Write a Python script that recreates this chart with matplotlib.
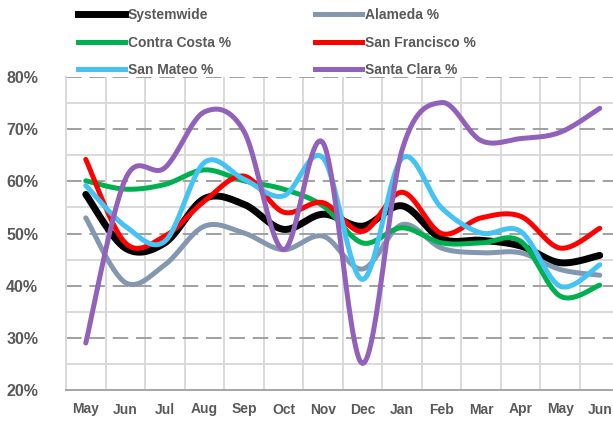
import numpy as np
import matplotlib

matplotlib.use("Agg")
import matplotlib.pyplot as plt
from matplotlib.lines import Line2D

plt.rcParams["font.family"] = ["Liberation Sans", "DejaVu Sans"]

months = ["May", "Jun", "Jul", "Aug", "Sep", "Oct", "Nov", "Dec",
          "Jan", "Feb", "Mar", "Apr", "May", "Jun"]

systemwide = [57.5, 47.2, 48.2, 56.7, 55.6, 50.8, 53.7, 51.4, 55.3, 49.0, 48.7, 47.6, 44.4, 45.8]
alameda = [53.0, 40.6, 44.0, 51.4, 50.1, 46.9, 49.5, 43.2, 51.7, 47.2, 46.3, 46.3, 43.1, 42.0]
contra_costa = [60.1, 58.5, 59.4, 62.2, 60.1, 58.5, 55.3, 48.2, 51.1, 48.2, 48.2, 48.5, 38.0, 40.1]
san_francisco = [64.2, 48.2, 49.5, 56.2, 61.0, 54.1, 55.9, 50.4, 57.9, 50.0, 53.0, 53.3, 47.2, 51.0]
san_mateo = [59.2, 51.4, 48.5, 63.6, 60.4, 57.2, 64.5, 41.2, 64.4, 54.9, 50.1, 50.4, 39.9, 44.0]
santa_clara = [29.0, 60.4, 62.6, 73.3, 69.6, 46.9, 67.4, 25.1, 66.0, 75.1, 67.8, 68.2, 69.4, 74.0]

series = [
    ("Systemwide", systemwide, "#000000", 5.0),
    ("Alameda %", alameda, "#8497B0", 3.6),
    ("Contra Costa %", contra_costa, "#00B050", 3.6),
    ("San Francisco %", san_francisco, "#FF0000", 3.6),
    ("San Mateo %", san_mateo, "#45C3F2", 3.6),
    ("Santa Clara %", santa_clara, "#9262BA", 3.6),
]


def smooth(y, n=30):
    # Catmull-Rom style bezier, close to Excel's "smoothed line"
    y = np.asarray(y, dtype=float)
    x = np.arange(len(y), dtype=float)
    px = np.concatenate([[x[0]], x, [x[-1]]])
    py = np.concatenate([[y[0]], y, [y[-1]]])
    xs, ys = [], []
    t = np.linspace(0, 1, n)
    for i in range(1, len(px) - 2):
        p0 = np.array([px[i], py[i]])
        p3 = np.array([px[i + 1], py[i + 1]])
        c1 = p0 + (np.array([px[i + 1], py[i + 1]]) - np.array([px[i - 1], py[i - 1]])) / 6
        c2 = p3 - (np.array([px[i + 2], py[i + 2]]) - np.array([px[i], py[i]])) / 6
        b = ((1 - t) ** 3)[:, None] * p0 + (3 * (1 - t) ** 2 * t)[:, None] * c1 \
            + (3 * (1 - t) * t ** 2)[:, None] * c2 + (t ** 3)[:, None] * p3
        xs.append(b[:, 0])
        ys.append(b[:, 1])
    return np.concatenate(xs), np.concatenate(ys)


fig = plt.figure(figsize=(6.13, 4.21), dpi=100)
ax = fig.add_axes([66 / 613, 1 - 390 / 421, 553.5 / 613, 313 / 421])

# grid
for k in range(len(months) + 1):
    ax.axvline(k - 0.5, color="#D9D9D9", lw=1.4, zorder=0)
for v in np.arange(25, 80, 10):
    ax.axhline(v, color="#D9D9D9", lw=1.4, zorder=0)
for v in np.arange(30, 81, 10):
    ax.axhline(v, color="#A0A0A0", lw=1.4, dashes=(8, 4), zorder=1)

for name, vals, color, lw in series:
    xs, ys = smooth(vals)
    ax.plot(xs, ys, color=color, lw=lw, solid_capstyle="round", zorder=3, label=name)

ax.set_xlim(-0.5, len(months) - 0.5)
ax.set_ylim(20, 80)
ax.set_xticks(range(len(months)))
ax.set_xticklabels(months)
ax.set_yticks(np.arange(20, 81, 10))
ax.set_yticklabels([f"{v}%" for v in range(20, 81, 10)])
for lab in ax.get_yticklabels():
    lab.set_fontsize(11.5)
    lab.set_fontweight("bold")
    lab.set_color("#595959")
for lab in ax.get_xticklabels():
    lab.set_fontsize(10)
    lab.set_fontweight("bold")
    lab.set_color("#595959")
ax.tick_params(axis="x", length=0, pad=9)
ax.tick_params(axis="y", length=0, pad=20)
for s in ["top", "right"]:
    ax.spines[s].set_visible(False)
ax.spines["left"].set_color("#D9D9D9")
ax.spines["left"].set_linewidth(1.4)
ax.spines["bottom"].set_color("#A6A6A6")
ax.spines["bottom"].set_linewidth(1.4)

# legend in two columns
handles = [Line2D([0], [0], color=c, lw=lw) for _, _, c, lw in series]
names = [s[0] for s in series]
leg_kw = dict(frameon=False, handlelength=3.4, handletextpad=0.2, labelspacing=0.98,
              prop={"weight": "bold", "size": 10}, loc="upper left", borderaxespad=0,
              borderpad=0, labelcolor="#595959")
fig.legend([handles[0], handles[2], handles[4]], [names[0], names[2], names[4]],
           bbox_to_anchor=(78 / 613, 1 - 8 / 421), **leg_kw)
fig.legend([handles[1], handles[3], handles[5]], [names[1], names[3], names[5]],
           bbox_to_anchor=(315 / 613, 1 - 8 / 421), **leg_kw)

fig.savefig("out.png", dpi=100)
